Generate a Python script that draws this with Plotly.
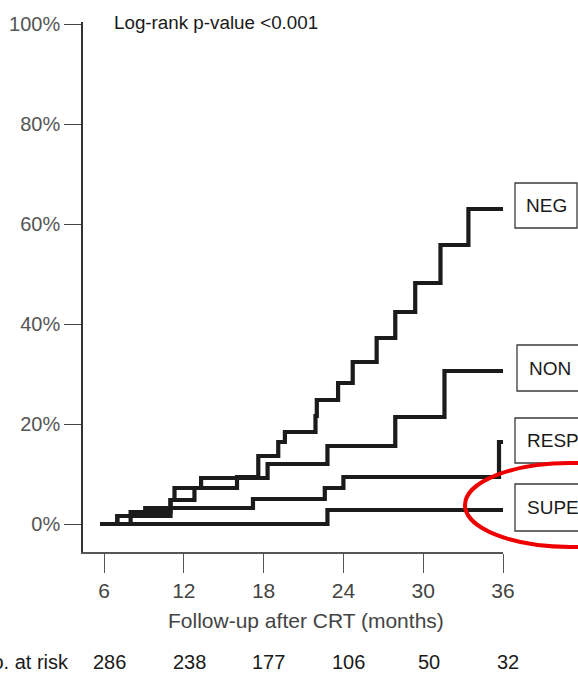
import plotly.graph_objects as go

# Cumulative incidence (%) step curves by response group, time in months after CRT
neg_t = [5.7, 8.0, 11.0, 11.3, 16.0, 17.6, 19.1, 19.6, 21.9, 22.0, 23.6, 24.7, 26.5, 27.9, 29.4, 31.3, 33.4]
neg_v = [0.0, 2.4, 4.8, 7.2, 9.4, 13.6, 16.4, 18.4, 21.6, 24.8, 28.2, 32.4, 37.2, 42.4, 48.2, 55.8, 63.0]

non_t = [5.7, 7.0, 11.0, 12.8, 13.3, 18.3, 22.8, 27.9, 31.6]
non_v = [0.0, 1.6, 4.8, 7.2, 9.2, 12.0, 15.6, 21.4, 30.6]

resp_t = [5.7, 7.0, 9.1, 17.2, 22.6, 24.0, 35.7]
resp_v = [0.0, 1.6, 3.2, 5.0, 7.2, 9.4, 16.4]

supe_t = [5.7, 22.8]
supe_v = [0.0, 2.8]

end_month = 36

group_names = ["NEG", "NON", "RESP", "SUPE"]

x_ticks = [6, 12, 18, 24, 30, 36]
y_ticks = [0, 20, 40, 60, 80, 100]
y_tick_labels = ["0%", "20%", "40%", "60%", "80%", "100%"]
at_risk = [286, 238, 177, 106, 50, 32]

X_MIN, X_MAX = 4.42, 36

fig = go.Figure()

curves = [(neg_t, neg_v), (non_t, non_v), (resp_t, resp_v), (supe_t, supe_v)]
for name, (t, v) in zip(group_names, curves):
    fig.add_trace(go.Scatter(
        x=t + [end_month], y=v + [v[-1]],
        mode="lines", line=dict(shape="hv", color="#1b1b1b", width=4.2),
        name=name, showlegend=False, hoverinfo="skip"))

# Plot area geometry in pixels (used to place boxes outside the axes)
L, R, T, B = 83, 503, 22, 552
def px(x):
    return (x - L) / (R - L)
def py(y):
    return (B - y) / (B - T)
def month_to_paper(m):
    return (m - X_MIN) / (X_MAX - X_MIN)

# Group label boxes at the right end of each curve: (label, left, top, right, bottom)
boxes = [("NEG", 515, 183, 577, 228),
         ("NON", 517, 345, 640, 391),
         ("RESP", 515, 418, 640, 463),
         ("SUPE", 515, 484, 640, 531)]
shapes = []
annotations = []
label_font = dict(family="Liberation Sans, Arial", size=19, color="#1a1a1a")
for label, x0, y0, x1, y1 in boxes:
    shapes.append(dict(type="rect", xref="paper", yref="paper",
                       x0=px(x0), x1=px(x1), y0=py(y1), y1=py(y0),
                       line=dict(color="#3a3a3a", width=1.3), fillcolor="white", layer="above"))
    if label == "NEG":
        annotations.append(dict(text=label, xref="paper", yref="paper",
                                x=px((x0 + x1) / 2), y=py((y0 + y1) / 2),
                                xanchor="center", yanchor="middle", showarrow=False,
                                font=label_font))
    else:
        annotations.append(dict(text=label, xref="paper", yref="paper",
                                x=px(x0 + 10), y=py((y0 + y1) / 2),
                                xanchor="left", yanchor="middle", showarrow=False,
                                font=label_font))

# Red highlight ellipse around the SUPE label
shapes.append(dict(type="circle", xref="paper", yref="paper",
                   x0=px(465), x1=px(675), y0=py(547), y1=py(463),
                   line=dict(color="#ee0000", width=4), layer="above"))

annotations.append(dict(text="Log-rank p-value <0.001", xref="paper", yref="paper",
                        x=px(112), y=py(22), xanchor="left", yanchor="middle", showarrow=False,
                        font=dict(family="Liberation Sans, Arial", size=18.8, color="#1a1a1a")))

annotations.append(dict(text="Follow-up after CRT (months)", xref="paper", yref="paper",
                        x=px(306), y=py(620), xanchor="center", yanchor="middle", showarrow=False,
                        font=dict(family="Liberation Sans, Arial", size=21, color="#444444")))

# Number-at-risk row under the time axis
annotations.append(dict(text="No. at risk", xref="paper", yref="paper",
                        x=px(71), y=py(662), xanchor="right", yanchor="middle", showarrow=False,
                        font=dict(family="Liberation Sans, Arial", size=20, color="#1a1a1a")))
for m, n in zip(x_ticks, at_risk):
    annotations.append(dict(text=str(n), xref="paper", yref="paper",
                            x=month_to_paper(m + 0.4), y=py(662), xanchor="center", yanchor="middle",
                            showarrow=False,
                            font=dict(family="Liberation Sans, Arial", size=20, color="#1a1a1a")))

fig.update_layout(
    width=578, height=674,
    margin=dict(l=L, r=578 - R, t=T, b=674 - B),
    plot_bgcolor="white", paper_bgcolor="white",
    shapes=shapes, annotations=annotations,
    xaxis=dict(range=[X_MIN, X_MAX], tickvals=x_ticks, ticks="outside", ticklen=19,
               tickcolor="#555555", tickwidth=1.3, showline=True, linecolor="#555555",
               linewidth=1.5, showgrid=False, zeroline=False, automargin=False,
               tickfont=dict(family="Liberation Sans, Arial", size=21, color="#444444")),
    yaxis=dict(range=[-5.6, 100.4], tickvals=y_ticks, ticktext=y_tick_labels,
               ticks="outside", ticklen=17, tickcolor="#444444", tickwidth=1.3,
               showline=True, linecolor="#333333", linewidth=1.5,
               showgrid=False, zeroline=False, automargin=False,
               tickfont=dict(family="Liberation Sans, Arial", size=20, color="#555555")),
)

fig.write_html("out.html")
